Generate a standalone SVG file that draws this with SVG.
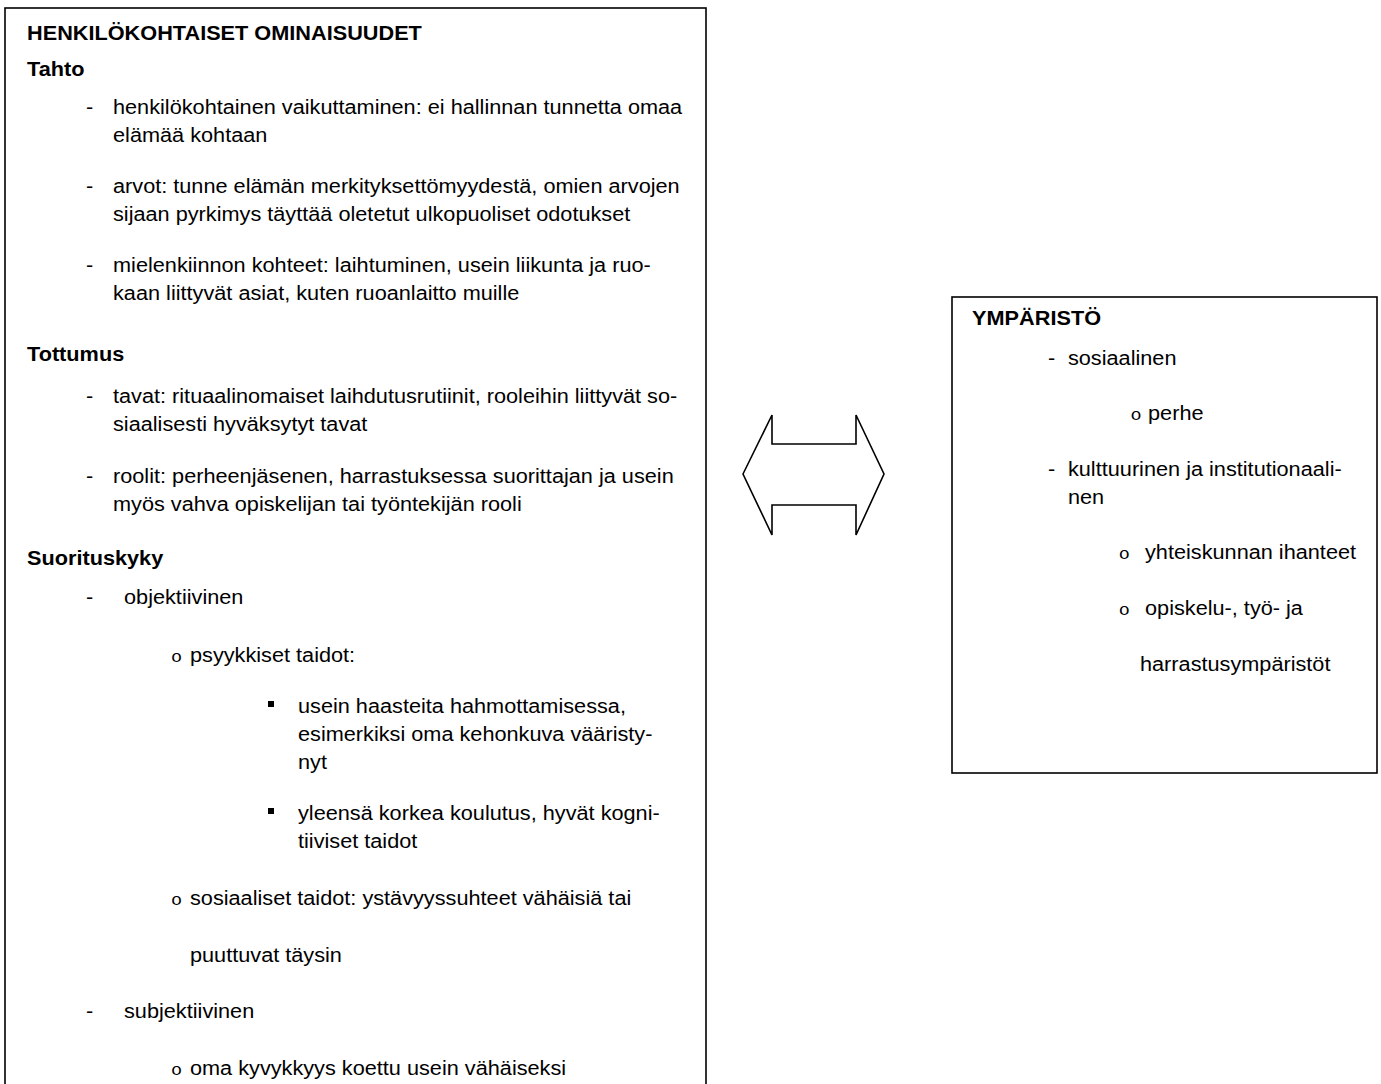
<svg xmlns="http://www.w3.org/2000/svg" width="1381" height="1084" viewBox="0 0 1381 1084">
<style>
.t{font-family:"Liberation Sans",Arial,sans-serif;font-size:20px;fill:#000}
.b{font-weight:bold}
.o{font-family:"Liberation Mono","Courier New",monospace;font-size:17px;fill:#000}
.box{fill:#fff;stroke:#000;stroke-width:1.6}
</style>
<rect width="1381" height="1084" fill="#fff"/>
<g id="henkilokohtaiset">
<rect class="box" x="5" y="8" width="701" height="1090"/>
<g transform="scale(1.085,1)">
<text class="t b" x="24.9" y="40">HENKILÖKOHTAISET OMINAISUUDET</text>
<text class="t b" x="24.9" y="76">Tahto</text>
<text class="t" x="79.3" y="114">-</text>
<text class="t" x="104.15" y="114">henkilökohtainen vaikuttaminen: ei hallinnan tunnetta omaa</text>
<text class="t" x="104.15" y="142">elämää kohtaan</text>
<text class="t" x="79.3" y="193">-</text>
<text class="t" x="104.15" y="193">arvot: tunne elämän merkityksettömyydestä, omien arvojen</text>
<text class="t" x="104.15" y="221">sijaan pyrkimys täyttää oletetut ulkopuoliset odotukset</text>
<text class="t" x="79.3" y="272">-</text>
<text class="t" x="104.15" y="272">mielenkiinnon kohteet: laihtuminen, usein liikunta ja ruo-</text>
<text class="t" x="104.15" y="300">kaan liittyvät asiat, kuten ruoanlaitto muille</text>
<text class="t b" x="24.9" y="361">Tottumus</text>
<text class="t" x="79.3" y="403">-</text>
<text class="t" x="104.15" y="403">tavat: rituaalinomaiset laihdutusrutiinit, rooleihin liittyvät so-</text>
<text class="t" x="104.15" y="431">siaalisesti hyväksytyt tavat</text>
<text class="t" x="79.3" y="483">-</text>
<text class="t" x="104.15" y="483">roolit: perheenjäsenen, harrastuksessa suorittajan ja usein</text>
<text class="t" x="104.15" y="511">myös vahva opiskelijan tai työntekijän rooli</text>
<text class="t b" x="24.9" y="565">Suorituskyky</text>
<text class="t" x="79.3" y="604">-</text>
<text class="t" x="114.3" y="604">objektiivinen</text>
<text class="o" x="157.5" y="662">o</text>
<text class="t" x="175.1" y="662">psyykkiset taidot:</text>
<text class="t" x="274.65" y="713">usein haasteita hahmottamisessa,</text>
<text class="t" x="274.65" y="741">esimerkiksi oma kehonkuva vääristy-</text>
<text class="t" x="274.65" y="769">nyt</text>
<text class="t" x="274.65" y="820">yleensä korkea koulutus, hyvät kogni-</text>
<text class="t" x="274.65" y="848">tiiviset taidot</text>
<text class="o" x="157.5" y="905">o</text>
<text class="t" x="175.1" y="905">sosiaaliset taidot: ystävyyssuhteet vähäisiä tai</text>
<text class="t" x="175.1" y="962">puuttuvat täysin</text>
<text class="t" x="79.3" y="1018">-</text>
<text class="t" x="114.3" y="1018">subjektiivinen</text>
<text class="o" x="157.5" y="1075">o</text>
<text class="t" x="175.1" y="1075">oma kyvykkyys koettu usein vähäiseksi</text>
</g>
<rect x="268" y="701" width="6" height="6" fill="#000"/>
<rect x="268" y="808" width="6" height="6" fill="#000"/>
</g>
<g id="connectors">
<polygon points="743,474 772,415 772,444 856,444 856,415 884,474 856,535 856,505 772,505 772,535" fill="#fff" stroke="#000" stroke-width="1.6" stroke-linejoin="miter"/>
</g>
<g id="ymparisto">
<rect class="box" x="952" y="297" width="425" height="476"/>
<g transform="scale(1.085,1)">
<text class="t b" x="895.9" y="325">YMPÄRISTÖ</text>
<text class="t" x="965.9" y="365">-</text>
<text class="t" x="984.3" y="365">sosiaalinen</text>
<text class="o" x="1042" y="420">o</text>
<text class="t" x="1058.1" y="420">perhe</text>
<text class="t" x="965.9" y="476">-</text>
<text class="t" x="984.3" y="476">kulttuurinen ja institutionaali-</text>
<text class="t" x="984.3" y="504">nen</text>
<text class="o" x="1031" y="559">o</text>
<text class="t" x="1055.3" y="559">yhteiskunnan ihanteet</text>
<text class="o" x="1031" y="615">o</text>
<text class="t" x="1055.3" y="615">opiskelu-, työ- ja</text>
<text class="t" x="1050.7" y="671">harrastusympäristöt</text>
</g>
</g>
</svg>
